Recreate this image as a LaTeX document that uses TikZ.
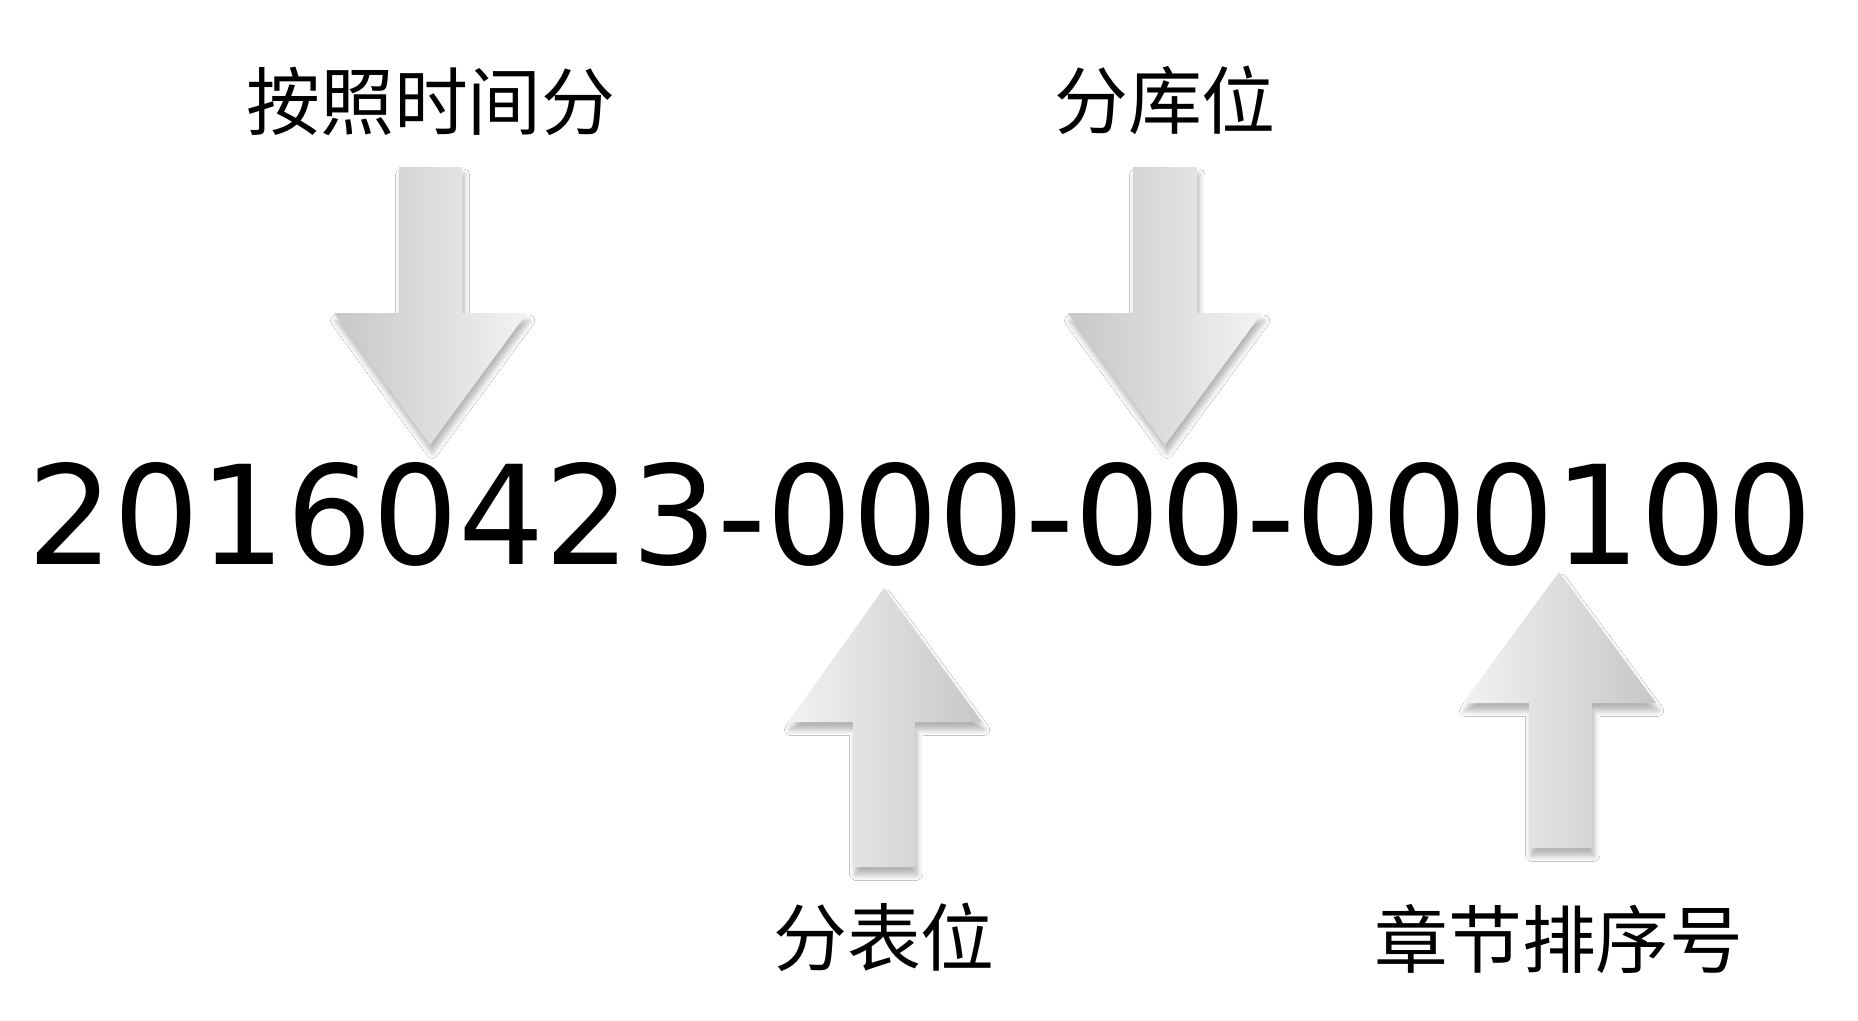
\documentclass[tikz,border=0pt]{standalone}
\usepackage{fontspec}
\setmainfont{DejaVu Sans}
\newfontfamily\cjk{Noto Sans CJK SC}
\newfontfamily\numfont{DejaVu Sans}
\usetikzlibrary{shadows.blur}
\tikzset{
  lbl/.style={font=\cjk\fontsize{21pt}{25pt}\selectfont, inner sep=0pt, text=black},
  arrowshadow/.style={blur shadow={shadow xshift=0.6pt, shadow yshift=-2.2pt,
    shadow blur steps=6, shadow opacity=30, shadow blur radius=1.6pt}},
  downarrow/.style={left color=black!22, right color=black!5, draw=none, arrowshadow},
  uparrow/.style={left color=black!5, right color=black!22, draw=none, arrowshadow},
}
\begin{document}
\begin{tikzpicture}[x=0.01cm,y=-0.01cm]
\useasboundingbox (0,0) rectangle (1858,1020);
\fill[white] (0,0) rectangle (1858,1020);

% labels
\node[lbl] (tlabel) at (431,101) {按照时间分};
\node[lbl] (dblabel) at (1165,100) {分库位};
\node[lbl] (tblabel) at (884,937) {分表位};
\node[lbl] (seqlabel) at (1559,939) {章节排序号};

% arrows
\path[downarrow] (399,167) -- (462,167) -- (462,313) -- (527,313) -- (430,445)
  -- (334,313) -- (399,313) -- cycle;
\path[downarrow] (1133,167) -- (1197,167) -- (1197,313) -- (1262,313) -- (1165,445)
  -- (1068,313) -- (1133,313) -- cycle;
\path[uparrow] (884,588) -- (982,722) -- (915,722) -- (915,867) -- (853,867)
  -- (853,722) -- (788,722) -- cycle;
\path[uparrow] (1559,572) -- (1656,703) -- (1592,703) -- (1592,848) -- (1529,848)
  -- (1529,703) -- (1463,703) -- cycle;

% number
\node[inner sep=0pt] (num) at (920.5,514)
  {\resizebox{17.85cm}{1.02cm}{\numfont 20160423-000-00-000100}};
\end{tikzpicture}
\end{document}
